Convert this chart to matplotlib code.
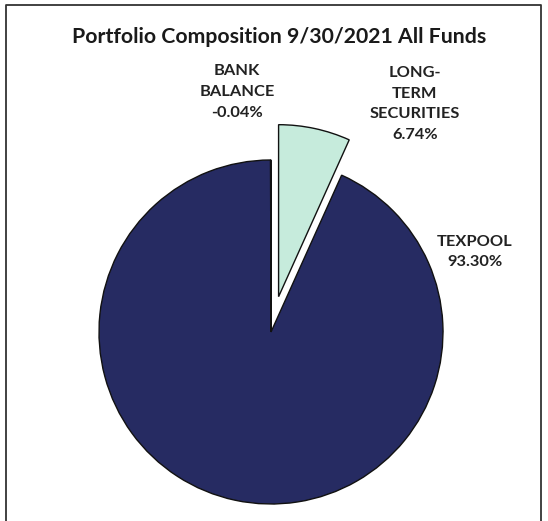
import matplotlib.pyplot as plt
from matplotlib.lines import Line2D

plt.rcParams['font.family'] = ['Lato', 'DejaVu Sans']

# slice order: clockwise from 12 o'clock
labels = ['LONG-\nTERM\nSECURITIES', 'TEXPOOL', 'BANK\nBALANCE']
values = [6.74, 93.30, -0.04]
colors = ['#c6ebdc', '#262b62', '#262b62']
explode = [0.21, 0, 0]

W, H = 548, 521
fig = plt.figure(figsize=(W / 100, H / 100), dpi=100)

# pie centre / radius in pixels
cx, cy, R = 271, 332, 172
lim = 1.5
ax = fig.add_axes([(cx - lim * R) / W, (H - cy - lim * R) / H,
                   2 * lim * R / W, 2 * lim * R / H])
# excel draws negative values by their size
ax.pie([abs(v) for v in values], colors=colors, explode=explode,
       startangle=90, counterclock=False, radius=1,
       wedgeprops=dict(edgecolor='#111111', linewidth=1.0))
ax.set_xlim(-lim, lim)
ax.set_ylim(-lim, lim)
ax.set_aspect('equal')
ax.axis('off')

fig.text(279 / W, 1 - 37 / H, 'Portfolio Composition 9/30/2021 All Funds',
         ha='center', va='center', fontsize=15.3, fontweight='bold',
         color='#1a1a1a')

# data labels (pixel positions of their centres)
label_pos = [(415, 104), (475, 252), (237, 92)]
for lab, v, (x, y) in zip(labels, values, label_pos):
    fig.text(x / W, 1 - y / H, '%s\n%.2f%%' % (lab, v), ha='center',
             va='center', fontsize=11.8, fontweight='bold', color='#222222',
             linespacing=1.6)

# chart frame
frame = Line2D([6 / W, 6 / W, 541 / W, 541 / W],
               [-0.05, 1 - 5 / H, 1 - 5 / H, -0.05],
               transform=fig.transFigure, color='#333333', linewidth=1.3)
fig.add_artist(frame)

fig.savefig('out.png', dpi=100, facecolor='white')
